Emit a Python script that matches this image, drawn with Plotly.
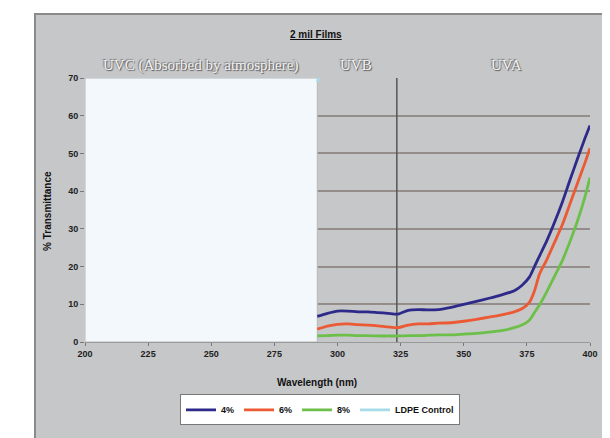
import plotly.graph_objects as go

# ---- data ----
wavelength = [292, 296, 300, 304, 308, 312, 316, 320, 324, 328, 332, 336, 340, 345, 350,
              355, 360, 365, 370, 373, 376, 378, 380, 383, 386, 389, 392, 395, 398, 400]
t_4pct = [6.8, 7.6, 8.2, 8.2, 8.0, 8.0, 7.8, 7.6, 7.4, 8.4, 8.6, 8.5, 8.6, 9.2, 10.0,
          10.8, 11.6, 12.5, 13.6, 15.0, 17.2, 20.0, 22.8, 27.0, 31.8, 37.0, 42.8, 48.5, 54.0, 57.4]
t_6pct = [3.4, 4.2, 4.7, 4.8, 4.6, 4.5, 4.3, 4.0, 3.8, 4.5, 4.8, 4.8, 5.0, 5.1, 5.5,
          6.0, 6.6, 7.2, 8.0, 8.8, 10.5, 13.5, 18.0, 22.0, 26.5, 31.0, 36.5, 42.0, 47.5, 51.4]
t_8pct = [1.6, 1.7, 1.8, 1.8, 1.7, 1.7, 1.6, 1.6, 1.6, 1.7, 1.7, 1.8, 1.9, 1.9, 2.1,
          2.3, 2.6, 3.0, 3.8, 4.5, 5.8, 7.8, 9.8, 13.5, 17.5, 21.5, 26.5, 32.0, 38.5, 43.6]
ldpe_wavelength = [292, 294, 300, 320, 350, 400]
t_ldpe = [69.0, 71.5, 74.0, 78.0, 82.0, 86.0]

series_names = ["4%", "6%", "8%", "LDPE Control"]
series_colors = ["#2e2a8a", "#ec5a35", "#6cc04a", "#a6dcea"]

x_ticks = [200, 225, 250, 275, 300, 325, 350, 375, 400]
y_ticks = [0, 10, 20, 30, 40, 50, 60, 70]

uvc_end = 292
uvb_uva_boundary = 323.5

fig = go.Figure()
for name, xs, ys, col in zip(series_names,
                             [wavelength, wavelength, wavelength, ldpe_wavelength],
                             [t_4pct, t_6pct, t_8pct, t_ldpe], series_colors):
    fig.add_trace(go.Scatter(x=xs, y=ys, mode="lines", name=name,
                             line=dict(color=col, width=2.8, shape="spline", smoothing=0.6)))

OFF = 8  # page body margin
W, H = 610 - OFF, 438 - OFF
L, R, T, B = 85 - OFF, 20, 78 - OFF, 438 - 350
pw, ph = W - L - R, H - T - B


def px(xp):
    return (xp - OFF - L) / pw


def py(yp):
    return (H - B - (yp - OFF)) / ph


shapes = [
    # grey chart area
    dict(type="rect", xref="paper", yref="paper", x0=px(35), x1=px(640), y0=py(470), y1=py(12),
         fillcolor="#c6c7c9", line=dict(color="#8a8a8a", width=2), layer="below"),
    # UVC region
    dict(type="rect", xref="x", yref="y", x0=200, x1=uvc_end, y0=0, y1=70,
         fillcolor="#f3f8fc", line=dict(color="#b8b8b8", width=1), layer="between"),
    # UVB/UVA divider
    dict(type="line", xref="x", yref="y", x0=uvb_uva_boundary, x1=uvb_uva_boundary, y0=0, y1=70,
         line=dict(color="#555555", width=1.5), layer="between"),
]

label_font = dict(family="Liberation Serif", size=15, color="#f2f2f2",
                  shadow="1px 1px 1px #555, -1px -1px 1px #777")
annotations = [
    dict(text="<b><u>2 mil Films</u></b>", x=px(316), y=py(33),
         font=dict(family="Liberation Sans", size=10, color="#111")),
    dict(text="UVC (Absorbed by atmosphere)", x=px(200), y=py(65), font=label_font),
    dict(text="UVB", x=px(356), y=py(65), font=label_font),
    dict(text="UVA", x=px(506), y=py(65), font=label_font),
    dict(text="<b>% Transmittance</b>", x=px(48), y=py(215), textangle=-90,
         font=dict(family="Liberation Sans", size=10, color="#111")),
    dict(text="<b>Wavelength (nm)</b>", x=px(317), y=py(392),
         font=dict(family="Liberation Sans", size=10, color="#111")),
]
for a in annotations:
    a.update(xref="paper", yref="paper", xanchor="center", yanchor="middle", showarrow=False)

fig.update_layout(
    width=W, height=H,
    margin=dict(l=L, r=R, t=T, b=B),
    paper_bgcolor="white", plot_bgcolor="white",
    shapes=shapes, annotations=annotations,
    font=dict(family="Liberation Sans", color="#222"),
    legend=dict(orientation="h", x=px(320), xanchor="center", y=py(404), yanchor="top",
                bgcolor="white", bordercolor="#777", borderwidth=1,
                font=dict(size=9, family="Liberation Sans", color="#111", weight="bold"),
                itemwidth=30, tracegroupgap=0),
    showlegend=True,
)
fig.update_xaxes(range=[200, 400], tickvals=x_ticks, ticktext=[f"<b>{v}</b>" for v in x_ticks],
                 ticks="outside", ticklen=3, tickcolor="#777", showgrid=False, zeroline=False,
                 showline=True, linecolor="#999", linewidth=1,
                 tickfont=dict(size=9, color="#222"))
fig.update_yaxes(range=[0, 70], tickvals=y_ticks, ticktext=[f"<b>{v}</b>" for v in y_ticks],
                 ticks="outside", ticklen=4, tickcolor="#777", showgrid=True, gridcolor="#958d8a",
                 gridwidth=2, zeroline=False, showline=False,
                 tickfont=dict(size=9, color="#222"))

fig.write_html("out.html")
